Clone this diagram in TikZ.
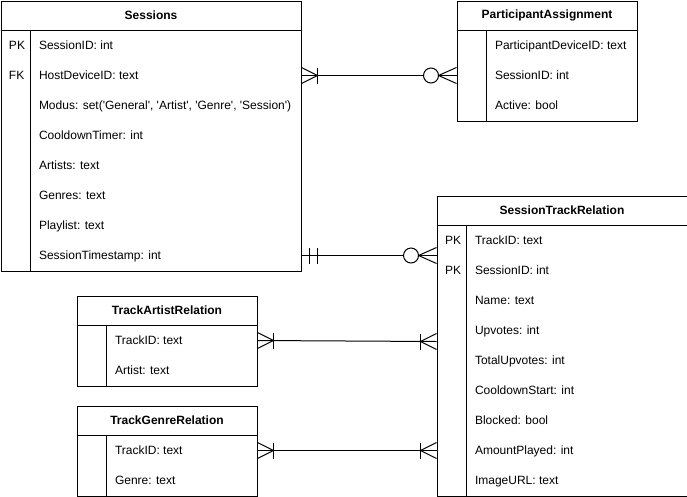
\documentclass[tikz,border=0pt]{standalone}
\usepackage{fontspec}
\setmainfont{Liberation Sans}
\usetikzlibrary{positioning}

\newcommand{\sq}{\textquotesingle}

\tikzset{
  tbl/.style={draw, anchor=north west, inner sep=0pt},
  title/.style={font=\fontsize{12}{14}\selectfont\bfseries, inner sep=0pt},
  field/.style={anchor=west, inner sep=0pt, text height=9pt, text depth=1pt},
  % crow's foot ends, drawn with the table edge at (0,0)
  onemany/.pic={\draw (0,-8) -- (16,0) -- (0,8); \draw (16,-8) -- (16,8);},
  zeromany/.pic={\draw (0,-8) -- (18,0) -- (0,8); \draw[fill=white] (25.5,0) circle (7.5);},
  onlyone/.pic={\draw (8,-8) -- (8,8); \draw (16,-8) -- (16,8);}
}

\begin{document}
\begin{tikzpicture}[x=1pt, y=-1pt, line width=1pt,
    every node/.append style={font=\fontsize{12}{14}\selectfont}]

  \useasboundingbox (0,0) rectangle (687,496);

  % Draw tables
  \node[tbl, minimum width=300pt, minimum height=270pt] (sessions) at (0.5,0.5) {};
  \node[tbl, minimum width=180pt, minimum height=120pt] (pa) at (456.5,0.5) {};
  \node[tbl, minimum width=250pt, minimum height=300pt] (str) at (436.5,195.5) {};
  \node[tbl, minimum width=180pt, minimum height=90pt] (tar) at (76.5,295.5) {};
  \node[tbl, minimum width=180pt, minimum height=90pt] (tgr) at (76.5,405.5) {};

  % Draw header lines and key columns
  \foreach \t in {sessions, pa, str, tar, tgr} {
    \draw ([yshift=-30pt]\t.north west) -- ([yshift=-30pt]\t.north east);
    \draw ([xshift=30pt, yshift=-30pt]\t.north west) -- ([xshift=30pt]\t.south west);
  }

  % Draw titles
  \node[title] (sessions-t) at ([yshift=-15pt]sessions.north) {Sessions};
  \node[title] (pa-t) at ([yshift=-15pt]pa.north) {ParticipantAssignment};
  \node[title] (str-t) at ([yshift=-15pt]str.north) {SessionTrackRelation};
  \node[title] (tar-t) at ([yshift=-15pt]tar.north) {TrackArtistRelation};
  \node[title] (tgr-t) at ([yshift=-15pt]tgr.north) {TrackGenreRelation};

  % Draw fields
  \foreach \txt [count=\i] in {SessionID: int, HostDeviceID: text,
      {Modus: set(\sq General\sq, \sq Artist\sq, \sq Genre\sq, \sq Session\sq)},
      CooldownTimer: int, Artists: text, Genres: text, Playlist: text,
      SessionTimestamp: int}
    \node[field] (s-\i) at ([xshift=38pt, yshift=-15pt-30pt*\i]sessions.north west) {\txt};

  \foreach \txt [count=\i] in {ParticipantDeviceID: text, SessionID: int, Active: bool}
    \node[field] (p-\i) at ([xshift=38pt, yshift=-15pt-30pt*\i]pa.north west) {\txt};

  \foreach \txt [count=\i] in {TrackID: text, SessionID: int, Name: text, Upvotes: int,
      TotalUpvotes: int, CooldownStart: int, Blocked: bool, AmountPlayed: int,
      ImageURL: text}
    \node[field] (r-\i) at ([xshift=38pt, yshift=-15pt-30pt*\i]str.north west) {\txt};

  \foreach \txt [count=\i] in {TrackID: text, Artist: text}
    \node[field] (a-\i) at ([xshift=38pt, yshift=-15pt-30pt*\i]tar.north west) {\txt};

  \foreach \txt [count=\i] in {TrackID: text, Genre: text}
    \node[field] (g-\i) at ([xshift=38pt, yshift=-15pt-30pt*\i]tgr.north west) {\txt};

  % Draw keys
  \node[field] (s-pk) at ([xshift=8pt]sessions.west |- s-1) {PK};
  \node[field] (s-fk) at ([xshift=8pt]sessions.west |- s-2) {FK};
  \node[field] (r-pk1) at ([xshift=8pt]str.west |- r-1) {PK};
  \node[field] (r-pk2) at ([xshift=8pt]str.west |- r-2) {PK};

  % Draw relations
  \coordinate (str-s) at ([yshift=-60pt]str.north west);
  \coordinate (str-a) at ([yshift=-146pt]str.north west);

  \draw (sessions.east |- s-2) -- (pa.west |- p-2);
  \pic at (sessions.east |- s-2) {onemany};
  \pic[rotate=180] at (pa.west |- p-2) {zeromany};

  \draw (sessions.east |- s-8) -- (str-s);
  \pic at (sessions.east |- s-8) {onlyone};
  \pic[rotate=180] at (str-s) {zeromany};

  \draw (tar.east |- a-1) -- (str-a);
  \pic at (tar.east |- a-1) {onemany};
  \pic[rotate=180] at (str-a) {onemany};

  \draw (tgr.east |- g-1) -- (str.west |- r-8);
  \pic at (tgr.east |- g-1) {onemany};
  \pic[rotate=180] at (str.west |- r-8) {onemany};

\end{tikzpicture}
\end{document}
